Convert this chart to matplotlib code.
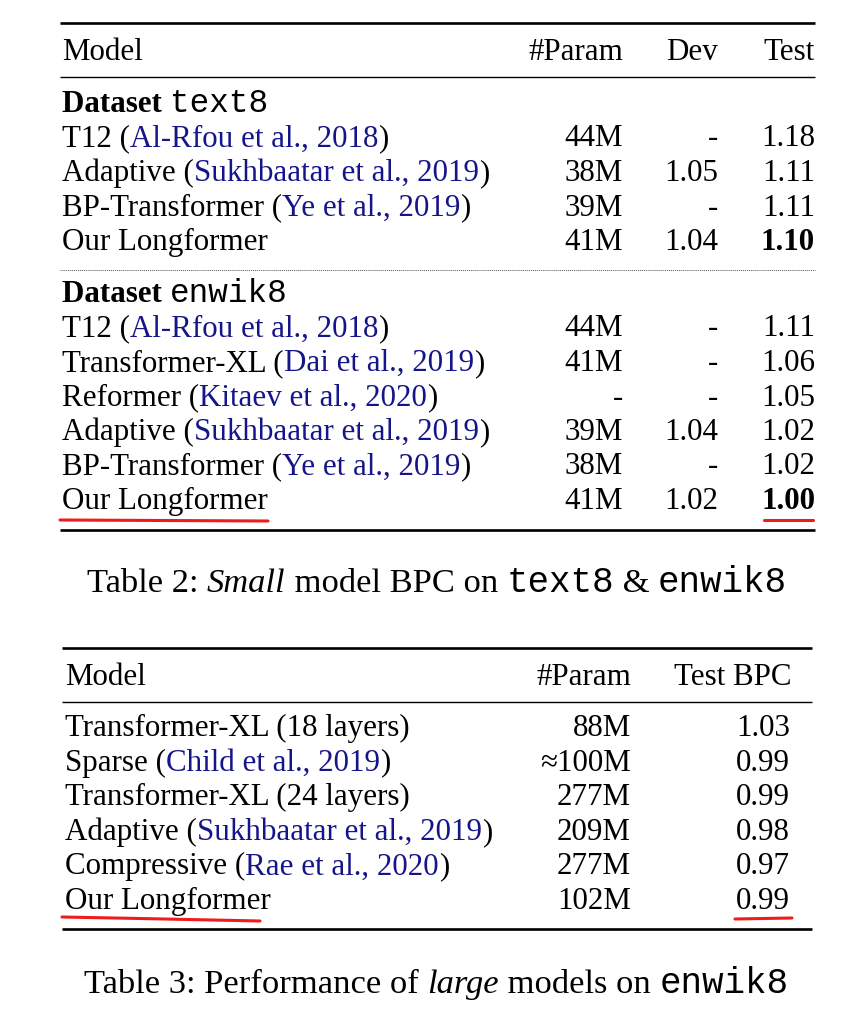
import matplotlib
matplotlib.use("Agg")
import matplotlib.pyplot as plt
from matplotlib.font_manager import FontProperties

# ---------------- data ----------------
t2_header = ["Model", "#Param", "Dev", "Test"]

text8_models = ["T12", "Adaptive", "BP-Transformer", "Our Longformer"]
text8_cites = ["Al-Rfou et al., 2018", "Sukhbaatar et al., 2019", "Ye et al., 2019", None]
text8_params = ["44M", "38M", "39M", "41M"]
text8_dev = ["-", "1.05", "-", "1.04"]
text8_test = ["1.18", "1.11", "1.11", "1.10"]

enwik8_models = ["T12", "Transformer-XL", "Reformer", "Adaptive", "BP-Transformer", "Our Longformer"]
enwik8_cites = ["Al-Rfou et al., 2018", "Dai et al., 2019", "Kitaev et al., 2020",
                "Sukhbaatar et al., 2019", "Ye et al., 2019", None]
enwik8_params = ["44M", "41M", "-", "39M", "38M", "41M"]
enwik8_dev = ["-", "-", "-", "1.04", "-", "1.02"]
enwik8_test = ["1.11", "1.06", "1.05", "1.02", "1.02", "1.00"]

t3_header = ["Model", "#Param", "Test BPC"]
t3_models = ["Transformer-XL (18 layers)", "Sparse", "Transformer-XL (24 layers)",
             "Adaptive", "Compressive", "Our Longformer"]
t3_cites = [None, "Child et al., 2019", None, "Sukhbaatar et al., 2019", "Rae et al., 2020", None]
t3_params = ["88M", "\u2248100M", "277M", "209M", "277M", "102M"]
t3_test = ["1.03", "0.99", "0.99", "0.98", "0.97", "0.99"]

# ---------------- style ----------------
W, H = 866, 1024
FS = 22.3
CFS = 24.8
SERIF = ["Liberation Serif", "DejaVu Serif"]
MONO = ["Liberation Mono", "DejaVu Sans Mono"]
fp_r = FontProperties(family=SERIF, size=FS)
fp_b = FontProperties(family=SERIF, size=FS, weight="bold")
fp_m = FontProperties(family=MONO, size=FS + 1.2)
cp_r = FontProperties(family=SERIF, size=CFS)
cp_i = FontProperties(family=SERIF, size=CFS, style="italic")
cp_m = FontProperties(family=MONO, size=CFS + 1.0)
CITE = "#15158a"
RED = "#ee1c1c"

fig = plt.figure(figsize=(W / 100, H / 100), dpi=100)
ax = fig.add_axes([0, 0, 1, 1])
ax.set_xlim(0, W)
ax.set_ylim(H, 0)
ax.axis("off")
renderer = fig.canvas.get_renderer()


def tw(s, fp):
    w1, _, _ = renderer.get_text_width_height_descent(s + "|", fp, ismath=False)
    w2, _, _ = renderer.get_text_width_height_descent("|", fp, ismath=False)
    return w1 - w2


def rich(x, y, pieces, ha="left"):
    total = sum(tw(s, fp) for s, fp, c in pieces)
    if ha == "center":
        x = x - total / 2
    for s, fp, c in pieces:
        ax.text(x, y, s, fontproperties=fp, color=c, ha="left", va="baseline")
        x += tw(s, fp)


def model_pieces(name, cite):
    if cite is None:
        return [(name, fp_r, "black")]
    return [(name + " (", fp_r, "black"), (cite, fp_r, CITE), (")", fp_r, "black")]


def rule(y, x0, x1, lw, ls="-", color="black"):
    ax.plot([x0, x1], [y, y], color=color, lw=lw, ls=ls, solid_capstyle="butt")


# ---------------- Table 2 ----------------
L2, R2 = 60, 815
cx2 = [62, 623, 718, 815]
rule(23, L2, R2, 1.9)
ax.text(cx2[0], 60, t2_header[0], fontproperties=fp_r, va="baseline")
for j in range(1, 4):
    ax.text(cx2[j], 60, t2_header[j], fontproperties=fp_r, va="baseline", ha="right")
rule(77, L2, R2, 1.0)


def block(y0, dname, models, cites, params, dev, test, ystep=34.5):
    rich(cx2[0], y0, [("Dataset ", fp_b, "black"), (dname, fp_m, "black")])
    for i in range(len(models)):
        y = y0 + ystep * (i + 1)
        rich(cx2[0], y, model_pieces(models[i], cites[i]))
        ax.text(cx2[1], y, params[i], fontproperties=fp_r, va="baseline", ha="right")
        ax.text(cx2[2], y, dev[i], fontproperties=fp_r, va="baseline", ha="right")
        best = test[i] == min(test)
        ax.text(cx2[3], y, test[i], fontproperties=fp_b if best else fp_r,
                va="baseline", ha="right")


block(112, "text8", text8_models, text8_cites, text8_params, text8_dev, text8_test)
rule(270, L2, R2, 0.7, ls=(0, (1, 1)), color="#555555")
block(302, "enwik8", enwik8_models, enwik8_cites, enwik8_params, enwik8_dev, enwik8_test)

# red hand-drawn underlines
ax.plot([60, 268], [520, 521], color=RED, lw=2.2, solid_capstyle="round")
ax.plot([764, 813], [520, 520], color=RED, lw=2.2, solid_capstyle="round")
rule(530, L2, R2, 1.9)

rich(437, 592, [("Table 2: ", cp_r, "black"), ("Small", cp_i, "black"),
                (" model BPC on ", cp_r, "black"), ("text8", cp_m, "black"),
                (" & ", cp_r, "black"), ("enwik8", cp_m, "black")], ha="center")

# ---------------- Table 3 ----------------
L3, R3 = 62, 812
cx3 = [65, 631, 792]
rule(648, L3, R3, 1.9)
ax.text(cx3[0], 685, t3_header[0], fontproperties=fp_r, va="baseline")
ax.text(cx3[1], 685, t3_header[1], fontproperties=fp_r, va="baseline", ha="right")
ax.text(cx3[2], 685, t3_header[2], fontproperties=fp_r, va="baseline", ha="right")
rule(702, L3, R3, 1.0)
for i in range(len(t3_models)):
    y = 736 + 34.6 * i
    rich(cx3[0], y, model_pieces(t3_models[i], t3_cites[i]))
    ax.text(cx3[1], y, t3_params[i], fontproperties=fp_r, va="baseline", ha="right")
    ax.text(cx3[2] - 2, y, t3_test[i], fontproperties=fp_r, va="baseline", ha="right")

ax.plot([62, 140, 260], [917, 918.5, 921], color=RED, lw=2.2, solid_capstyle="round")
ax.plot([735, 792], [919, 918], color=RED, lw=2.2, solid_capstyle="round")
rule(929, L3, R3, 1.9)

rich(436, 993, [("Table 3: Performance of ", cp_r, "black"), ("large", cp_i, "black"),
                (" models on ", cp_r, "black"), ("enwik8", cp_m, "black")], ha="center")

fig.savefig("out.png", dpi=100, facecolor="white")
